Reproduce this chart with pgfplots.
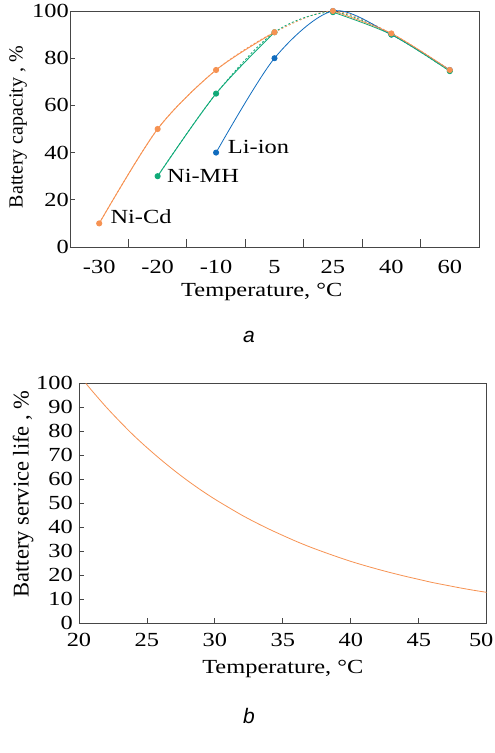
\documentclass[border=0pt]{standalone}
\usepackage{fontspec}
\setmainfont{Liberation Serif}
\newfontfamily\wide{Liberation Serif}[FakeStretch=1.22]
\newfontfamily\sansit{Liberation Sans}
\usepackage{pgfplots}
\pgfplotsset{compat=1.18}

\definecolor{cdorange}{RGB}{246,146,82}
\definecolor{mhgreen}{RGB}{16,170,120}
\definecolor{liblue}{RGB}{16,108,190}
\definecolor{axgray}{RGB}{70,70,70}

\pgfplotsset{
  common/.style={
    scale only axis,
    axis line style={axgray, line width=0.9pt},
    tick style={axgray, line width=0.9pt},
    tick align=inside,
    xtick pos=bottom, ytick pos=left,
    major tick length=5pt,
    /pgf/number format/assume math mode=true,
    tick label style={font=\wide\fontsize{20}{22}\selectfont},
    xlabel style={font=\wide\fontsize{20}{22}\selectfont},
  },
}

\begin{document}
\begin{tikzpicture}
\useasboundingbox (0pt,0pt) rectangle (495pt,753pt);

% (a) capacity vs temperature
\begin{axis}[common,
  at={(70pt,506pt)}, anchor=south west,
  width=409pt, height=236pt,
  xmin=-0.5, xmax=6.5, ymin=0, ymax=100,
  clip=true,
  xtick={0,1,2,3,4,5,6},
  xticklabels={-30,-20,-10,5,25,40,60},
  major x tick style={draw=none},
  minor xtick={0.5,1.5,2.5,3.5,4.5,5.5},
  minor tick length=8pt,
  ytick={0,20,40,60,80,100},
  yticklabel style={anchor=east, inner sep=0pt, xshift=-1pt},
  xticklabel style={anchor=base, inner sep=0pt, yshift=-27pt},
  xlabel={Temperature, °C},
  xlabel style={at={(axis description cs:0.469,0)}, anchor=base, yshift=-50pt},
  ylabel={Battery capacity , \%},
  ylabel style={at={(axis description cs:-0.127,0.508)}, anchor=center,
    font=\fontsize{20}{22}\selectfont},
]
% dashed connecting parts (5 -> 25)
\addplot[cdorange, line width=0.8pt, smooth, dash pattern=on 2pt off 2pt]
  coordinates {(0,10)(1,50)(2,75)(3,91)(4,100)(5,90.5)(6,75)};
\addplot[mhgreen, line width=0.8pt, smooth, dash pattern=on 2pt off 2pt, dash phase=2pt]
  coordinates {(1,30)(2,65)(3,91)(4,99.5)(5,90)(6,74.5)};
% Li-ion
\addplot[liblue, line width=0.8pt, smooth, mark=*, mark size=2.6pt,
  mark options={fill=liblue, draw=none}]
  coordinates {(2,40)(3,80)(4,100)(5,90)(6,75)};
% Ni-MH
\addplot[mhgreen, line width=0.9pt, smooth, mark=*, mark size=2.6pt,
  mark options={fill=mhgreen, draw=none}]
  coordinates {(1,30)(2,65)(3,91)};
\addplot[mhgreen, line width=0.8pt, smooth, mark=*, mark size=2.6pt,
  mark options={fill=mhgreen, draw=none}]
  coordinates {(4,99.5)(5,90)(6,74.5)};
% Ni-Cd
\addplot[cdorange, line width=0.9pt, smooth, mark=*, mark size=2.6pt,
  mark options={fill=cdorange, draw=none}]
  coordinates {(0,10)(1,50)(2,75)(3,91)};
\addplot[cdorange, line width=0.8pt, smooth, mark=*, mark size=2.6pt,
  mark options={fill=cdorange, draw=none}]
  coordinates {(4,100)(5,90.5)(6,75)};
\node[anchor=base west, inner sep=0pt, font=\wide\fontsize{20}{22}\selectfont]
  at (axis cs:2.2,39.8) {Li-ion};
\node[anchor=base west, inner sep=0pt, font=\wide\fontsize{20}{22}\selectfont]
  at (axis cs:1.16,27.2) {Ni-MH};
\node[anchor=base west, inner sep=0pt, font=\wide\fontsize{20}{22}\selectfont]
  at (axis cs:0.19,10) {Ni-Cd};
\end{axis}

% (b) service life vs temperature
\begin{axis}[common,
  at={(79pt,129.7pt)}, anchor=south west,
  width=407.7pt, height=240pt,
  xmin=20, xmax=50, ymin=0, ymax=100,
  xtick={20,25,30,35,40,45,50},
  xticklabels={20,25,30,35,40,45,\hbox{50\kern11pt}},
  ytick={0,10,20,30,40,50,60,70,80,90,100},
  yticklabel style={anchor=east, inner sep=0pt, xshift=-6pt},
  xticklabel style={anchor=base, inner sep=0pt, yshift=-23pt},
  xlabel={Temperature, °C},
  xlabel style={at={(axis description cs:0.5,0)}, anchor=base, yshift=-50pt},
  ylabel={Battery service life , \%},
  ylabel style={at={(axis description cs:-0.137,0.539)}, anchor=center,
    font=\fontsize{22.5}{24}\selectfont},
]
\addplot[cdorange, line width=0.8pt, smooth] coordinates {
  (20.5,100)(21,96.6)(22,90.1)(23,84.1)(24,78.4)(25,73.2)(26,68.3)
  (27,63.7)(28,59.4)(29,55.4)(30,51.7)(31,48.3)(32,45.0)(33,42.0)
  (34,39.2)(35,36.6)(36,34.1)(37,31.8)(38,29.7)(39,27.7)(40,25.8)
  (41,24.1)(42,22.5)(43,21.0)(44,19.6)(45,18.3)(46,17.0)(47,15.9)
  (48,14.8)(49,13.8)(50,12.9)};
\end{axis}

\node[font=\sansit\itshape\fontsize{21}{23}\selectfont] at (249pt,416pt) {a};
\node[font=\sansit\itshape\fontsize{21}{23}\selectfont] at (249pt,37pt) {b};
\end{tikzpicture}
\end{document}
